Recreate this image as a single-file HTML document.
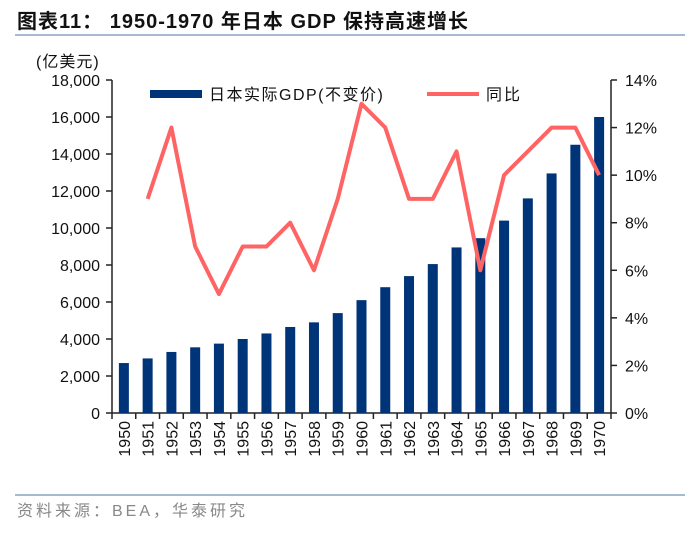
<!DOCTYPE html>
<html><head><meta charset="utf-8"><style>
body{margin:0;background:#fff;width:700px;height:529px;overflow:hidden;font-family:"Liberation Sans","Noto Sans CJK SC",sans-serif}
</style></head><body>
<svg width="700" height="529" font-family="Liberation Sans, Noto Sans CJK SC, sans-serif">
<text x="17" y="28" font-size="20" font-weight="bold" fill="#111" letter-spacing="1">图表11： 1950-1970 年日本 GDP 保持高速增长</text>
<line x1="15" y1="35" x2="685" y2="35" stroke="#8aa4c4" stroke-width="1.5"/>
<text x="36" y="67" font-size="16" fill="#111" letter-spacing="1">(亿美元)</text>
<g id="axes"></g>
<g id="bars"></g>
<g id="line"></g>
<g>
<rect x="150" y="90" width="52" height="8" fill="#003478"/>
<text x="209" y="100" font-size="16" fill="#111" letter-spacing="1.5">日本实际GDP(不变价)</text>
<line x1="427" y1="94" x2="479" y2="94" stroke="#ff6464" stroke-width="4"/>
<text x="486" y="100" font-size="16" fill="#111" letter-spacing="2">同比</text>
</g>
<line x1="15" y1="495" x2="685" y2="495" stroke="#8aa4c4" stroke-width="1.5"/>
<text x="17" y="516" font-size="16" fill="#888" letter-spacing="3">资料来源：BEA，华泰研究</text>
</svg>
<script>
const years=["1950","1951","1952","1953","1954","1955","1956","1957","1958","1959","1960","1961","1962","1963","1964","1965","1966","1967","1968","1969","1970"];
const gdp=[2700,2950,3300,3550,3750,4000,4300,4650,4900,5400,6100,6800,7400,8050,8950,9450,10400,11600,12950,14500,16000];
const yoy=[null,9,12,7,5,7,7,8,6,9,13,12,9,9,11,6,10,11,12,12,10];
const leftTicks=[0,2000,4000,6000,8000,10000,12000,14000,16000,18000];
const rightTicks=[0,2,4,6,8,10,12,14];
const NS="http://www.w3.org/2000/svg";
const L=112,R=611,T=80,B=413;
const cw=(R-L)/years.length;
const xc=i=>L+cw*(i+0.5);
const yl=v=>B-(B-T)*v/18000;
const yr=v=>B-(B-T)*v/14;
function mk(p,tag,at){const e=document.createElementNS(NS,tag);for(const k in at)e.setAttribute(k,at[k]);p.appendChild(e);return e;}
const ax=document.getElementById('axes'),bg=document.getElementById('bars'),lg=document.getElementById('line');
let e=mk(ax,'line',{x1:L,y1:T,x2:L,y2:B,stroke:'#222','stroke-width':1.5});


e=mk(ax,'line',{x1:R,y1:T,x2:R,y2:B,stroke:'#222','stroke-width':1.5});


e=mk(ax,'line',{x1:L,y1:B,x2:R,y2:B,stroke:'#222','stroke-width':1.5});


leftTicks.forEach(v=>{const y=yl(v);
mk(ax,'line',{x1:L-6,y1:y,x2:L,y2:y,stroke:'#222','stroke-width':1.5});
const t=mk(ax,'text',{x:L-12,y:y+6,'font-size':16,'text-anchor':'end',fill:'#111'});t.textContent=v.toLocaleString('en-US');

});
rightTicks.forEach(v=>{const y=yr(v);
mk(ax,'line',{x1:R,y1:y,x2:R+6,y2:y,stroke:'#222','stroke-width':1.5});
const t=mk(ax,'text',{x:R+14,y:y+6,'font-size':16,fill:'#111'});t.textContent=v+'%';

});
for(let i=0;i<=years.length;i++){const x=L+cw*i;mk(ax,'line',{x1:x,y1:B,x2:x,y2:B+6,stroke:'#222','stroke-width':1.5});}
years.forEach((yv,i)=>{const x=xc(i);
const t=mk(ax,'text',{x:0,y:0,'font-size':16,'text-anchor':'end',fill:'#111',transform:`translate(${x+6},${B+8}) rotate(-90)`});t.textContent=yv;


const r=mk(bg,'rect',{x:x-5,y:yl(gdp[i]),width:10,height:B-yl(gdp[i]),fill:'#003478'});

});
let pts=[];yoy.forEach((v,i)=>{if(v!==null)pts.push(xc(i)+','+yr(v));});
const pl=mk(lg,'polyline',{points:pts.join(' '),fill:'none',stroke:'#ff6464','stroke-width':4,'stroke-linejoin':'round'});


</script>
</body></html>
